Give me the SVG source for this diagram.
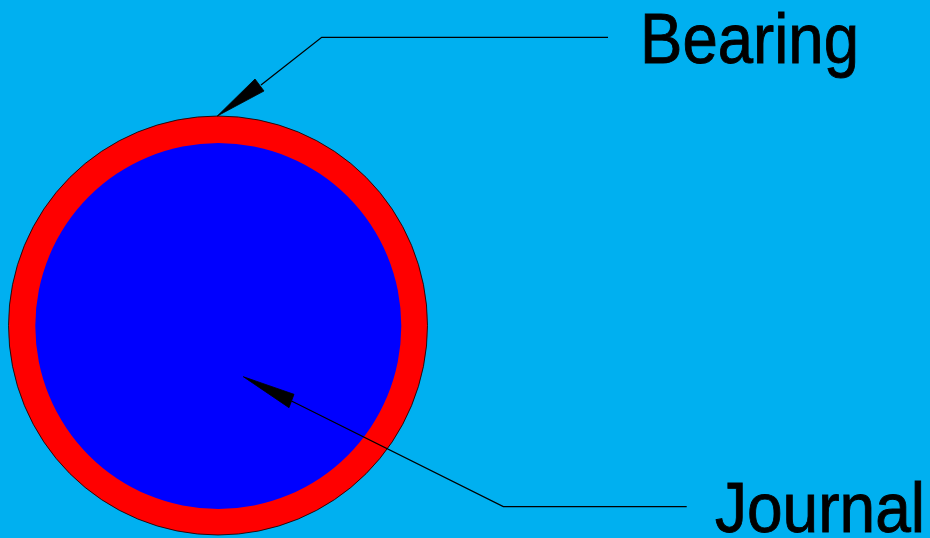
<svg xmlns="http://www.w3.org/2000/svg" width="930" height="538" viewBox="0 0 930 538">
<style>
.lead{fill:none;stroke:#000;stroke-width:1.3}
.head{fill:#000;stroke:#000;stroke-width:0.8}
.lbl{font-family:"Liberation Sans",Arial,sans-serif;font-size:70px;fill:#000;stroke:#000;stroke-width:0.9}
</style>
<rect x="0" y="0" width="930" height="538" fill="#00B0F0"/>
<g id="bearing">
<circle cx="218" cy="325.5" r="209.5" fill="#FF0000" stroke="#000" stroke-width="0.8"/>
</g>
<g id="journal">
<circle cx="218.3" cy="326" r="183" fill="#0000FF"/>
</g>
<g id="connectors">
<polyline class="lead" points="608,37.3 321.7,37.3 261,85"/>
<polygon class="head" points="217.3,116 255,79 264,91"/>
<polyline class="lead" points="686.7,506.7 503.3,506.7 291.5,401"/>
<polygon class="head" points="243.3,376.7 294,394.3 289,407.7"/>
</g>
<g id="label-bearing">
<text class="lbl" x="640" y="63.3" textLength="219" lengthAdjust="spacingAndGlyphs">Bearing</text>
</g>
<g id="label-journal">
<text class="lbl" x="715" y="532" textLength="210" lengthAdjust="spacingAndGlyphs">Journal</text>
</g>
</svg>
